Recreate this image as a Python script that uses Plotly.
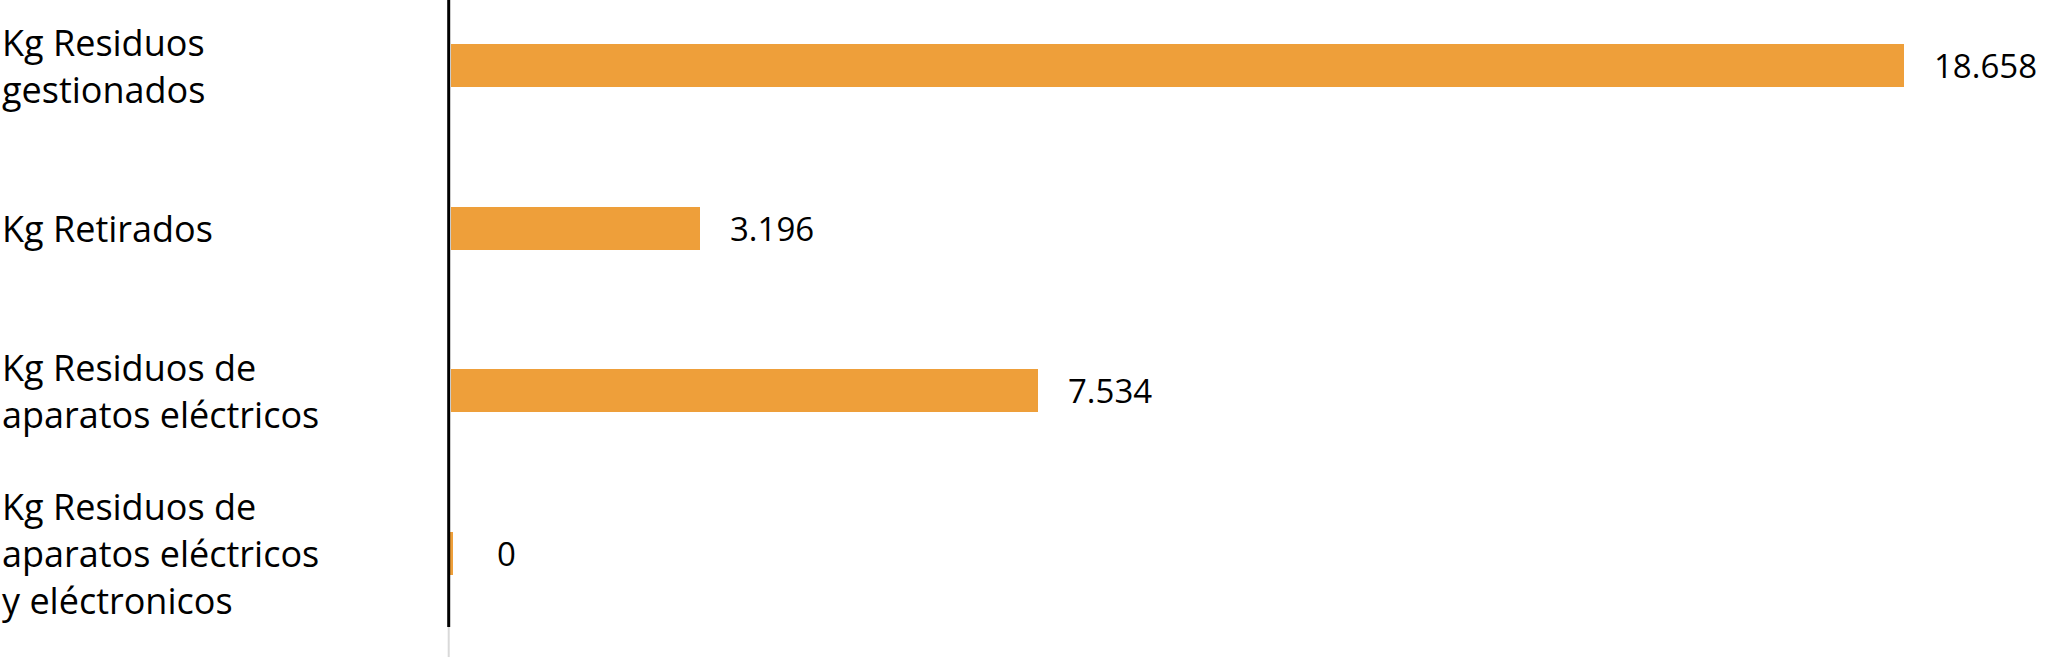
#!/usr/bin/env python3

import plotly.graph_objects as go

# categories, top to bottom
categories = [
    "Kg Residuos<br>gestionados",
    "Kg Retirados",
    "Kg Residuos de<br>aparatos eléctricos",
    "Kg Residuos de<br>aparatos eléctricos<br>y eléctronicos",
]
kg_values = [18658, 3196, 7534, 0]

bar_color = "#EE9F3A"
font_family = "Open Sans, Lato, sans-serif"


def fmt_kg(v: int) -> str:
    # thousands separated with a dot, as in the source
    return f"{v:,}".replace(",", ".")


value_labels = [fmt_kg(v) for v in kg_values]

fig = go.Figure()
fig.add_trace(
    go.Bar(
        x=kg_values,
        y=categories,
        orientation="h",
        width=0.265,
        marker=dict(
            color=bar_color,
            # zero bars still show a thin sliver
            line=dict(color=bar_color, width=[0 if v else 4 for v in kg_values]),
        ),
        hoverinfo="skip",
        showlegend=False,
    )
)

# category labels, left aligned at the page edge
for cat in categories:
    fig.add_annotation(
        x=0,
        xref="paper",
        y=cat,
        yref="y",
        text=cat,
        showarrow=False,
        xanchor="left",
        yanchor="middle",
        align="left",
        font=dict(family=font_family, size=36, color="#000000"),
    )

# value labels at the end of each bar
for cat, v, lab in zip(categories, kg_values, value_labels):
    fig.add_annotation(
        x=v,
        xref="x",
        y=cat,
        yref="y",
        text=lab,
        showarrow=False,
        xanchor="left",
        yanchor="middle",
        xshift=28 if v else 44,
        font=dict(family=font_family, size=33, color="#000000"),
    )

# axis line: black along the bars, light grey stub below
fig.add_shape(
    type="line",
    xref="x",
    yref="y",
    xsizemode="pixel",
    xanchor=0,
    x0=-2,
    x1=-2,
    y0=-0.404,
    y1=3.454,
    line=dict(color="#000000", width=3),
)
fig.add_shape(
    type="line",
    xref="x",
    yref="y",
    xsizemode="pixel",
    xanchor=0,
    x0=-2,
    x1=-2,
    y0=3.454,
    y1=3.639,
    line=dict(color="#d9d9d9", width=2),
)

fig.update_xaxes(
    range=[-5786, 20505],
    visible=False,
    showgrid=False,
    zeroline=False,
    fixedrange=True,
)
fig.update_yaxes(
    type="category",
    categoryorder="array",
    categoryarray=categories,
    range=[3.651, -0.404],
    visible=False,
    showgrid=False,
    zeroline=False,
    fixedrange=True,
)
fig.update_layout(
    width=2048,
    height=659,
    margin=dict(l=0, r=0, t=0, b=0),
    paper_bgcolor="#ffffff",
    plot_bgcolor="#ffffff",
    font=dict(family=font_family, color="#000000"),
    bargap=0,
)

# drop the browser's default body margin so the chart sits at 0,0
fig.write_html(
    "out.html",
    config={"displayModeBar": False},
    post_script="document.body.style.margin='0';",
)
